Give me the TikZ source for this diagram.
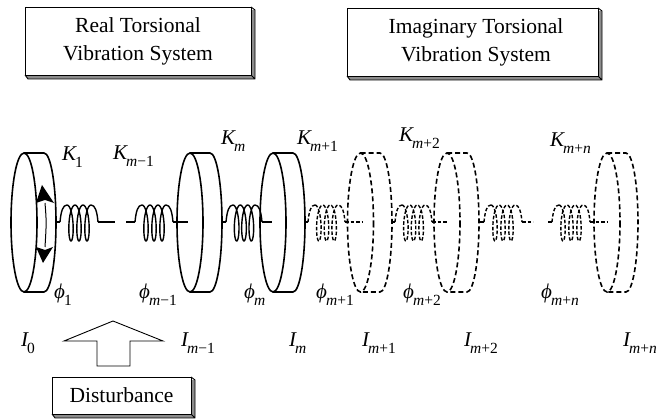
\documentclass[tikz,border=0pt]{standalone}
\usepackage{fontspec}
\setmainfont{Liberation Serif}
\tikzset{
 x=1pt,y=-1pt,
 disc/.style={line width=1.6pt},
 ghost/.style={line width=1.6pt,dash pattern=on 5pt off 3pt},
 coilline/.style={line width=1.4pt},
 ghostcoil/.style={line width=1.4pt,dash pattern=on 3.5pt off 2pt},
 sym/.style={inner sep=0pt,anchor=base west},
 boxtext/.style={align=center,font=\fontsize{21.5}{28}\selectfont},
}
\newcommand{\sublab}[2]{{\fontsize{21}{21}\selectfont\itshape #1}\kern-1pt\raisebox{-6.5pt}{\fontsize{15.5}{15.5}\selectfont #2}}
\newcommand{\im}{\textit{m}}
% disc: front centre x, back centre x
\newcommand{\wheel}[3]{%
 \draw[#3] (#1,222.5) ellipse [x radius=13,y radius=69.5];
 \draw[#3] (#1,153) -- (#2,153) arc[start angle=-90,end angle=90,x radius=12,y radius=69.5] -- (#1,292);
}
% coil: start x, end x
\newcommand{\helix}[3]{%
 \pgfmathsetmacro{\pitch}{(#2-#1-14)/3}
 \draw[#3] (#1,222) .. controls (#1+1,211) and (#1+3,205) .. (#1+7,205)
   plot[smooth,samples=100,domain=0:1080,variable=\t]
   ({#1+7+\pitch*\t/360+4*sin(\t)},{223-18*cos(\t)})
   .. controls (#2-3,205) and (#2-1,211) .. (#2,222);
}
\newcommand{\bevelbox}[5]{% name l t r b
 \fill[black!45] (#2+1,#3) -- (#4+4,#3+3) -- (#4+4,#5+4) -- (#2+3,#5+4) -- (#2,#5) -- cycle;
 \draw[line width=.9pt] (#4,#3) -- (#4+4,#3+3) -- (#4+4,#5+4) -- (#2+3,#5+4) -- (#2,#5) (#4,#5) -- (#4+4,#5+4);
 \draw[line width=.9pt,fill=white] (#2,#3) rectangle (#4,#5);
 \coordinate (#1) at ({(#2+#4)/2},{(#3+#5)/2});
}
\begin{document}
\begin{tikzpicture}
\useasboundingbox (0,0) rectangle (656,419);
\clip (0,0) rectangle (656,419);
\bevelbox{realb}{25}{7}{251}{75}
\node[boxtext] (real) at (realb) {Real Torsional\\Vibration System};
\bevelbox{imagb}{347}{8}{598}{76}
\node[boxtext] (imag) at (476,42) {Imaginary Torsional\\Vibration System};
\bevelbox{distb}{52}{377}{191}{414}
\node[boxtext] (dist) at (distb) {Disturbance};

\wheel{24}{44}{disc}
\wheel{190}{210}{disc}
\wheel{273}{293}{disc}
\wheel{360.5}{380}{ghost}
\wheel{447}{467}{ghost}
\wheel{607}{626}{ghost}

% solid coils and shaft
\draw[coilline] (57,222) -- (60,222) (98,222) -- (115,222);
\helix{60}{98}{coilline}
\draw[coilline] (126,222) -- (135,222) (173,222) -- (188,222);
\helix{135}{173}{coilline}
\draw[coilline] (223,222) -- (226,222) (262,222) -- (272,222);
\helix{226}{262}{coilline}
% ghost coils
\draw[ghostcoil] (306,222) -- (308,222) (345,222) -- (362,222);
\helix{308}{345}{ghostcoil}
\draw[ghostcoil] (392,222) -- (395,222) (432,222) -- (448,222);
\helix{395}{432}{ghostcoil}
\draw[ghostcoil] (480,222) -- (484,222) (522,222) -- (533,222);
\helix{484}{522}{ghostcoil}
\draw[ghostcoil] (548,222) -- (552,222) (590,222) -- (607,222);
\helix{552}{590}{ghostcoil}

% rotation arrows
\draw[line width=1pt] (45,203) .. controls (46.5,222) .. (45,247);
\fill (42,185) -- (54,203) -- (45,200) -- (36,203) -- cycle;
\fill (43,263) -- (36,247) -- (45,250) -- (53,247) -- cycle;

% disturbance arrow
\draw[line width=.9pt,fill=white] (113,321) -- (163,341) -- (130,341) -- (130,366) -- (97,366) -- (97,341) -- (64,341) -- cycle;

% labels
\node[sym] (k1) at (62,161) {\sublab{K}{1}};
\node[sym] (kmm) at (113,160) {\sublab{K}{\im−1}};
\node[sym] (km) at (221,145) {\sublab{K}{\im}};
\node[sym] (kmp) at (297,145) {\sublab{K}{\im+1}};
\node[sym] (kmpp) at (399,142) {\sublab{K}{\im+2}};
\node[sym] (kmpn) at (550,147) {\sublab{K}{\im+\textit{n}}};
\node[sym] (p1) at (54,299) {\sublab{ϕ}{1}};
\node[sym] (pmm) at (139,299) {\sublab{ϕ}{\im−1}};
\node[sym] (pm) at (244,299) {\sublab{ϕ}{\im}};
\node[sym] (pmp) at (316,299) {\sublab{ϕ}{\im+1}};
\node[sym] (pmpp) at (403,299) {\sublab{ϕ}{\im+2}};
\node[sym] (pmpn) at (541,299) {\sublab{ϕ}{\im+\textit{n}}};
\node[sym] (i0) at (21,347) {\sublab{I}{0}};
\node[sym] (imm) at (181,347) {\sublab{I}{\im−1}};
\node[sym] (im) at (289,347) {\sublab{I}{\im}};
\node[sym] (imp) at (362,347) {\sublab{I}{\im+1}};
\node[sym] (impp) at (464,347) {\sublab{I}{\im+2}};
\node[sym] (impn) at (623,347) {\sublab{I}{\im+\textit{n}}};
\end{tikzpicture}
\end{document}
